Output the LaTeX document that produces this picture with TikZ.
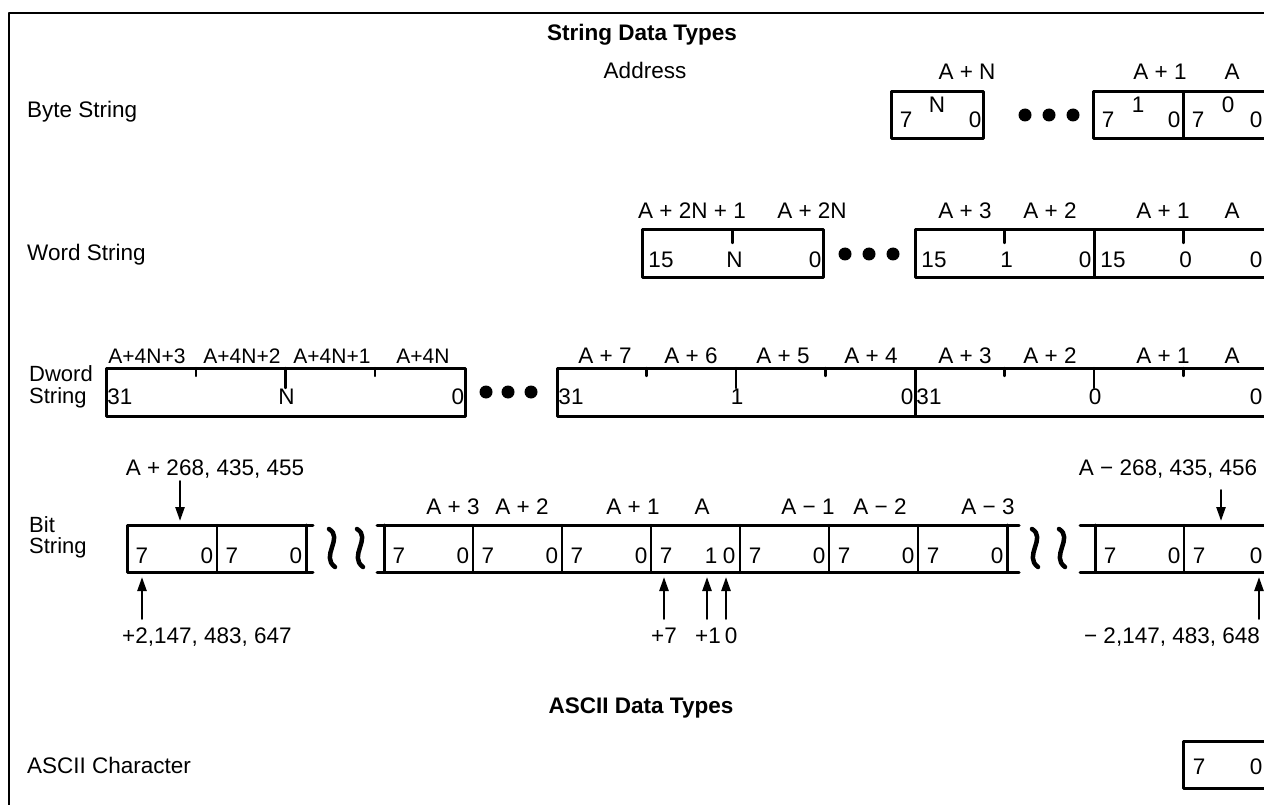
\documentclass[tikz,border=0pt]{standalone}
\usepackage{fontspec}
\setmainfont{Liberation Sans}
\usetikzlibrary{arrows.meta}

\begin{document}
\begin{tikzpicture}[line cap=round,line join=round,>={Triangle[length=14pt,width=9pt]},x=1pt,y=-1pt,
	lbl/.style={inner sep=0pt,text height=16pt,text depth=0pt,font=\fontsize{22.5}{24}\selectfont},
	ttl/.style={lbl,font=\fontsize{22.5}{24}\selectfont\bfseries},
	two/.style={inner sep=0pt,align=left,anchor=west,font=\fontsize{22}{#1}\selectfont},
	bx/.style={line width=3pt},
	dv/.style={line width=2.4pt},
	wv/.style={line width=4.5pt},
	ar/.style={->,line width=2.4pt}]
	\useasboundingbox (0,0) rectangle (1264,805);
	\clip (0,0) rectangle (1264,805);
	% frame
	\draw[line width=2.8pt] (9,805) -- (9,13) -- (1270,13);
	\node[ttl] (strtitle) at (642,33) {String Data Types};
	\node[lbl] (addr) at (645,71) {Address};
	% byte string
	\node[lbl,anchor=west] (byte) at (27,110) {Byte String};
	\node[lbl] (bAN) at (967,72) {A + N};
	\node[lbl] (bA1) at (1160,72) {A + 1};
	\node[lbl] (bA0) at (1232,72) {A};
	\foreach \l/\r/\m [count=\i] in {891/983/N,1093/1183/1,1183/1273/0}{
		\draw[bx] (\l,92) rectangle (\r,139);
		\node[lbl] (bs\i) at (\l+15,120) {7};
		\node[lbl] (bm\i) at ({(\l+\r)/2},105) {\m};
	}
	\node[lbl] (be1) at (975,120) {0};
	\node[lbl] (be2) at (1174,120) {0};
	\node[lbl] (be3) at (1256,120) {0};
	\foreach \x in {1025,1049,1073} \fill (\x,115) circle (6.5pt);
	% word string
	\node[lbl,anchor=west] (word) at (27,253) {Word String};
	\node[lbl] (wA2N1) at (692,211) {A + 2N + 1};
	\node[lbl] (wA2N) at (812,211) {A + 2N};
	\node[lbl] (wA3) at (965,211) {A + 3};
	\node[lbl] (wA2) at (1050,211) {A + 2};
	\node[lbl] (wA1) at (1163,211) {A + 1};
	\node[lbl] (wA0) at (1232,211) {A};
	\foreach \l/\r/\m [count=\i] in {642/823/N,915/1094/1,1094/1273/0}{
		\draw[bx] (\l,230) rectangle (\r,277);
		\draw[dv] ({(\l+\r)/2},230) -- ({(\l+\r)/2},243);
		\node[lbl] (ws\i) at (\l+19,260) {15};
		\node[lbl] (wm\i) at ({(\l+\r)/2+2},260) {\m};
	}
	\node[lbl] (we1) at (815,260) {0};
	\node[lbl] (we2) at (1085,260) {0};
	\node[lbl] (we3) at (1256,260) {0};
	\foreach \x in {845,869,893} \fill (\x,254) circle (6.5pt);
	% dword string
	\node[two=22] (dword) at (29,387) {Dword\\String};
	\foreach \x/\t in {147/A+4N+3,242/A+4N+2,332/A+4N+1,423/A+4N}
		\node[lbl,font=\fontsize{21}{24}\selectfont] (d\x) at (\x,355) {\t};
	\foreach \x/\t in {605/A + 7,691/A + 6,783/A + 5,871/A + 4,965/A + 3,1050/A + 2,1163/A + 1,1232/A}
		\node[lbl] (d\x) at (\x,355) {\t};
	\foreach \l/\r/\m [count=\i] in {106/465/N,557/915/1,915/1273/0}{
		\draw[bx] (\l,368) rectangle (\r,416);
		\draw[dv] ({(\l+\r)/2},368) -- ({(\l+\r)/2},388);
		\draw[dv] ({(3*\l+\r)/4},368) -- ({(3*\l+\r)/4},376);
		\draw[dv] ({(\l+3*\r)/4},368) -- ({(\l+3*\r)/4},376);
		\node[lbl] (ds\i) at (\l+14,396) {31};
		\node[lbl] (dm\i) at ({(\l+\r)/2+1},396) {\m};
	}
	\node[lbl] (de1) at (458,396) {0};
	\node[lbl] (de2) at (907,396) {0};
	\node[lbl] (de3) at (1256,396) {0};
	\foreach \x in {486,508,531} \fill (\x,392) circle (6.5pt);
	% bit string
	\node[two=21] (bit) at (29,537) {Bit\\String};
	\foreach \x/\t in {453/A + 3,522/A + 2,633/A + 1,702/A,808/A − 1,880/A − 2,988/A − 3}
		\node[lbl] (t\x) at (\x,506) {\t};
	\draw[bx] (313,525) -- (127,525) -- (127,572) -- (313,572);
	\draw[bx] (377,525) -- (1019,525) (377,572) -- (1019,572);
	\draw[bx] (1080,525) -- (1273,525) (1080,572) -- (1273,572);
	\foreach \x in {217,473,562,651,740,829,918,1184}
		\draw[dv] (\x,525) -- (\x,572);
	\foreach \x in {306,384,1007,1095}
		\draw[bx] (\x,525) -- (\x,572);
	\foreach \l/\r in {127/217,217/306,384/473,473/562,562/651,740/829,829/918,918/1007,1095/1184}{
		\node[lbl] (s\l) at (\l+15,555) {7};
		\node[lbl] (e\l) at (\r-10,555) {0};
	}
	\node[lbl] (s1184) at (1199,555) {7};
	\node[lbl] (e1184) at (1256,555) {0};
	\node[lbl] (s651) at (666,555) {7};
	\node[lbl] (o651) at (711,555) {1};
	\node[lbl] (e651) at (729,555) {0};
	% breaks
	\foreach \x in {332,360,1035,1062}
		\draw[wv] (\x-3,529) .. controls (\x+12,538) and (\x-12,556) .. (\x+3,567);
	% arrows
	\node[lbl] (hi) at (215,467) {A + 268, 435, 455};
	\node[lbl] (lo) at (1168,467) {A − 268, 435, 456};
	\coordinate (hitip) at (180,521);
	\coordinate (lotip) at (1221,521);
	\draw[ar] ([yshift=-6pt]hi.south -| hitip) -- (hitip);
	\draw[ar] ([yshift=-15pt]lo.south -| lotip) -- (lotip);
	\node[lbl] (maxb) at (207,635) {+2,147, 483, 647};
	\node[lbl] (p7) at (664,635) {+7};
	\node[lbl] (p1) at (708,635) {+1};
	\node[lbl] (p0) at (731,635) {0};
	\node[lbl] (minb) at (1172,635) {− 2,147, 483, 648};
	\foreach \n/\x in {maxb/142,p7/664,p1/707,p0/726,minb/1259}{
		\coordinate (\n tip) at (\x,577);
		\draw[ar] ([yshift=8pt]\n.north -| \n tip) -- (\n tip);
	}
	% ascii
	\node[ttl] (asctitle) at (641,705) {ASCII Data Types};
	\node[lbl,anchor=west] (ascchar) at (27,765) {ASCII Character};
	\draw[bx] (1183,741) rectangle (1273,788);
	\node[lbl] (as) at (1199,766) {7};
	\node[lbl] (ae) at (1256,766) {0};
\end{tikzpicture}
\end{document}
